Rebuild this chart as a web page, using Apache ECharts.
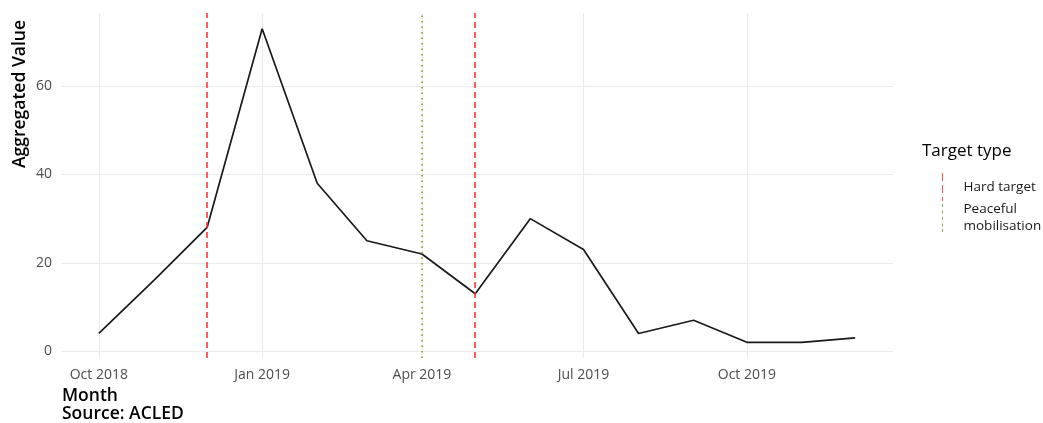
<!DOCTYPE html>
<html>
<head>
<meta charset="utf-8">
<script src="https://cdn.jsdelivr.net/npm/echarts@6/dist/echarts.min.js"></script>
<style>
  html, body { margin: 0; padding: 0; background: #fff; }
  #chart { width: 1043px; height: 423px; }
</style>
</head>
<body>
<div id="chart"></div>
<script>
// monthly aggregated values
var months = ['2018-10-01', '2018-11-01', '2018-12-01', '2019-01-01', '2019-02-01', '2019-03-01', '2019-04-01',
    '2019-05-01', '2019-06-01', '2019-07-01', '2019-08-01', '2019-09-01', '2019-10-01', '2019-11-01', '2019-12-01'];
var values = [4, 16, 28, 73, 38, 25, 22, 13, 30, 23, 4, 7, 2, 2, 3];

// event markers
var hardTargetDates = ['2018-12-01', '2019-05-01'];
var peacefulDates = ['2019-04-01'];

// axis ticks
var xTicks = ['2018-10-01', '2019-01-01', '2019-04-01', '2019-07-01', '2019-10-01'];
var yTicks = [0, 20, 40, 60];

var monthNames = ['Jan', 'Feb', 'Mar', 'Apr', 'May', 'Jun', 'Jul', 'Aug', 'Sep', 'Oct', 'Nov', 'Dec'];
var font = 'Open Sans';
var red = '#ff2a2a', green = '#6b9a2b';

function ts(s) { return new Date(s + 'T00:00:00Z').getTime(); }

var xMin = ts(months[0]), xMax = ts(months[months.length - 1]);
var xPad = (xMax - xMin) * 0.05;
var yLo = Math.min.apply(null, values), yHi = Math.max.apply(null, values);
var yPad = (yHi - yLo) * 0.05;

var chart = echarts.init(document.getElementById('chart'));

chart.setOption({
    animation: false,
    backgroundColor: '#fff',
    textStyle: { fontFamily: font },
    grid: { left: 61, right: 150, top: 13, bottom: 65 },
    xAxis: {
        type: 'value',
        scale: true,
        min: xMin - xPad,
        max: xMax + xPad,
        axisLine: { show: false },
        axisTick: { show: false, customValues: xTicks.map(ts) },
        axisLabel: {
            customValues: xTicks.map(ts),
            color: '#4d4d4d', fontSize: 14, margin: 10,
            formatter: function(v) {
                var d = new Date(v);
                return monthNames[d.getUTCMonth()] + ' ' + d.getUTCFullYear();
            }
        },
        splitLine: { show: true, lineStyle: { color: '#ebebeb', width: 1.2 } }
    },
    yAxis: {
        type: 'value',
        min: yLo - yPad,
        max: yHi + yPad,
        axisLine: { show: false },
        axisTick: { show: false, customValues: yTicks },
        axisLabel: { customValues: yTicks, color: '#4d4d4d', fontSize: 14, margin: 9 },
        splitLine: { show: true, lineStyle: { color: '#ebebeb', width: 1.2 } }
    },
    legend: {
        orient: 'vertical',
        left: 937,
        top: 168,
        itemWidth: 2,
        itemHeight: 28,
        itemGap: 0,
        textStyle: { fontFamily: font, fontSize: 13.5, color: '#1a1a1a', lineHeight: 17, padding: [0, 0, 0, 15] },
        formatter: function(name) { return name === 'Peaceful mobilisation' ? 'Peaceful\nmobilisation' : name; },
        data: [
            { name: 'Hard target', icon: 'path://M0,0h1v8h-1z M0,12h1v8h-1z M0,24h1v4h-1z', itemStyle: { color: red } },
            { name: 'Peaceful mobilisation', icon: 'path://M0,0h1v3h-1z M0,6.5h1v3h-1z M0,13h1v3h-1z M0,19.5h1v3h-1z M0,25h1v3h-1z', itemStyle: { color: green } }
        ]
    },
    graphic: [
        { type: 'text', x: 922, y: 151, style: { text: 'Target type', font: '17px "' + font + '"', fill: '#000', verticalAlign: 'middle' } },
        { type: 'text', x: 62, y: 396, style: { text: 'Month', font: '600 17.5px "' + font + '"', fill: '#000', verticalAlign: 'middle' } },
        { type: 'text', x: 62, y: 414, style: { text: 'Source: ACLED', font: '600 17.5px "' + font + '"', fill: '#000', verticalAlign: 'middle' } },
        { type: 'text', x: 20, y: 94, rotation: Math.PI / 2, style: { text: 'Aggregated Value', font: '600 17.5px "' + font + '"', fill: '#000', align: 'center', verticalAlign: 'middle' } }
    ],
    series: [
        {
            name: 'value',
            type: 'line',
            data: months.map(function(m, i) { return [ts(m), values[i]]; }),
            showSymbol: false,
            lineStyle: { color: '#1a1a1a', width: 1.7 },
            itemStyle: { color: '#1a1a1a' },
            z: 3
        },
        {
            name: 'Hard target',
            type: 'scatter',
            data: [],
            symbolKeepAspect: false,
            itemStyle: { color: red },
            markLine: {
                symbol: 'none', silent: true, label: { show: false },
                lineStyle: { color: red, type: [6, 4], width: 1.5 },
                data: hardTargetDates.map(function(d) { return { xAxis: ts(d) }; })
            },
            z: 4
        },
        {
            name: 'Peaceful mobilisation',
            type: 'scatter',
            data: [],
            symbolKeepAspect: false,
            itemStyle: { color: green },
            markLine: {
                symbol: 'none', silent: true, label: { show: false },
                lineStyle: { color: green, type: [1.5, 4], width: 1.5 },
                data: peacefulDates.map(function(d) { return { xAxis: ts(d) }; })
            },
            z: 4
        }
    ]
});
</script>
</body>
</html>
